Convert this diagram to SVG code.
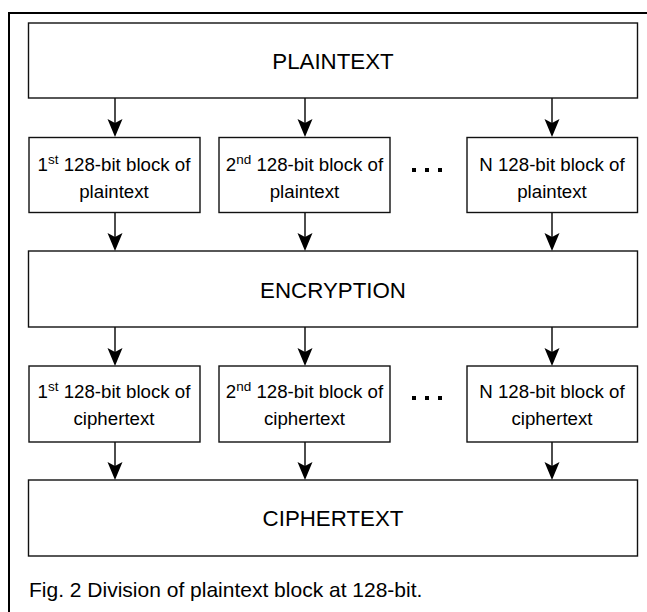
<svg xmlns="http://www.w3.org/2000/svg" width="647" height="612" viewBox="0 0 647 612">
<style>
.box{fill:#fff;stroke:#111;stroke-width:1.4}
.big{font-family:"Liberation Sans",Arial,sans-serif;font-size:22.3px;fill:#000;text-anchor:middle}
.sm{font-family:"Liberation Sans",Arial,sans-serif;font-size:18.7px;fill:#000;text-anchor:middle}
.sup{font-size:13.5px}
.cap{font-family:"Liberation Sans",Arial,sans-serif;font-size:21px;fill:#000}
.edge{stroke:#000;stroke-width:1.4;fill:none}
.dot{fill:#000}
</style>
<defs>
<path id="ah" d="M-7.5,-18 L0,0 L7.5,-18 L0,-14 Z" fill="#000"/>
</defs>
<rect width="647" height="612" fill="#fff"/>
<path d="M9,612 V13 H647" fill="none" stroke="#000" stroke-width="2"/>
<g id="connectors">
<line class="edge" x1="115" y1="98" x2="115" y2="124"/><use href="#ah" x="115" y="137"/>
<line class="edge" x1="305" y1="98" x2="305" y2="124"/><use href="#ah" x="305" y="137"/>
<line class="edge" x1="552" y1="98" x2="552" y2="124"/><use href="#ah" x="552" y="137"/>
<line class="edge" x1="115" y1="213" x2="115" y2="238"/><use href="#ah" x="115" y="251"/>
<line class="edge" x1="305" y1="213" x2="305" y2="238"/><use href="#ah" x="305" y="251"/>
<line class="edge" x1="552" y1="213" x2="552" y2="238"/><use href="#ah" x="552" y="251"/>
<line class="edge" x1="115" y1="327" x2="115" y2="353"/><use href="#ah" x="115" y="366"/>
<line class="edge" x1="305" y1="327" x2="305" y2="353"/><use href="#ah" x="305" y="366"/>
<line class="edge" x1="552" y1="327" x2="552" y2="353"/><use href="#ah" x="552" y="366"/>
<line class="edge" x1="115" y1="442" x2="115" y2="467"/><use href="#ah" x="115" y="480"/>
<line class="edge" x1="305" y1="442" x2="305" y2="467"/><use href="#ah" x="305" y="480"/>
<line class="edge" x1="552" y1="442" x2="552" y2="467"/><use href="#ah" x="552" y="480"/>
</g>
<g id="plaintext">
<rect class="box" x="28.5" y="23" width="609" height="75"/>
<text class="big" x="333" y="69">PLAINTEXT</text>
</g>
<g id="pblock1">
<rect class="box" x="29" y="137.5" width="171" height="75"/>
<text class="sm" x="114" y="171">1<tspan class="sup" dy="-7">st</tspan><tspan dy="7"> 128-bit block of</tspan></text>
<text class="sm" x="114" y="198">plaintext</text>
</g>
<g id="pblock2">
<rect class="box" x="219" y="137.5" width="171" height="75"/>
<text class="sm" x="304.5" y="171">2<tspan class="sup" dy="-7">nd</tspan><tspan dy="7"> 128-bit block of</tspan></text>
<text class="sm" x="304.5" y="198">plaintext</text>
</g>
<g id="pdots">
<rect class="dot" x="412" y="168" width="4" height="4"/>
<rect class="dot" x="425" y="168" width="4" height="4"/>
<rect class="dot" x="438" y="168" width="4" height="4"/>
</g>
<g id="pblockN">
<rect class="box" x="467" y="137.5" width="170.5" height="75"/>
<text class="sm" x="552" y="171">N 128-bit block of</text>
<text class="sm" x="552" y="198">plaintext</text>
</g>
<g id="encryption">
<rect class="box" x="28.5" y="251" width="609" height="76"/>
<text class="big" x="333" y="298">ENCRYPTION</text>
</g>
<g id="cblock1">
<rect class="box" x="29" y="366" width="171" height="76"/>
<text class="sm" x="114" y="397.5">1<tspan class="sup" dy="-7">st</tspan><tspan dy="7"> 128-bit block of</tspan></text>
<text class="sm" x="114" y="425">ciphertext</text>
</g>
<g id="cblock2">
<rect class="box" x="219" y="366" width="171" height="76"/>
<text class="sm" x="304.5" y="397.5">2<tspan class="sup" dy="-7">nd</tspan><tspan dy="7"> 128-bit block of</tspan></text>
<text class="sm" x="304.5" y="425">ciphertext</text>
</g>
<g id="cdots">
<rect class="dot" x="412" y="396" width="4" height="4"/>
<rect class="dot" x="425" y="396" width="4" height="4"/>
<rect class="dot" x="438" y="396" width="4" height="4"/>
</g>
<g id="cblockN">
<rect class="box" x="467" y="366" width="170.5" height="76"/>
<text class="sm" x="552" y="397.5">N 128-bit block of</text>
<text class="sm" x="552" y="425">ciphertext</text>
</g>
<g id="ciphertext">
<rect class="box" x="28.5" y="480" width="609" height="76"/>
<text class="big" x="333" y="526">CIPHERTEXT</text>
</g>
<text class="cap" x="29" y="597">Fig. 2 Division of plaintext block at 128-bit.</text>
</svg>
